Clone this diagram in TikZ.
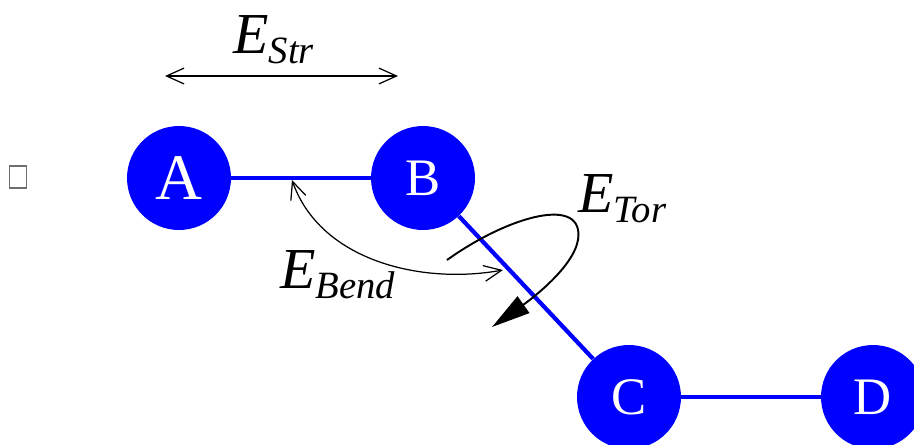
\documentclass[tikz,border=0pt]{standalone}
\usepackage{fontspec}
\setmainfont{Liberation Serif}
\usetikzlibrary{arrows.meta}
\definecolor{atomblue}{RGB}{0,0,255}
\definecolor{boxgray}{RGB}{110,110,110}
\newcommand\energy[1]{\textit{E}\raisebox{-0.18em}{\fontsize{22}{22}\selectfont\textit{#1}}}
\tikzset{
    atom/.style={
        circle,fill=atomblue,minimum size=2.08cm,inner sep=0pt,
        text=white,font=\fontsize{30}{30}\selectfont
    },
    bond/.style={
        draw=atomblue,line width=2.4pt
    },
    term/.style={
        anchor=base west,inner sep=0pt,font=\fontsize{33}{33}\selectfont
    },
    motion/.style={
        {Straight Barb[length=10pt,width=9pt]}-{Straight Barb[length=10pt,width=9pt]},
        line width=0.7pt
    },
    twist/.style={
        -{Triangle[length=22pt,width=11.5pt]},line width=1.1pt
    }
}

\begin{document}
\begin{tikzpicture}[x=0.02cm,y=-0.02cm]

\useasboundingbox (0,0) rectangle (914,444);
\clip (0,0) rectangle (914,444);

\node[draw=boxgray,line width=0.6pt,minimum width=0.34cm,minimum height=0.44cm,inner sep=0pt]
(glyph) at (18,177){};

\node[atom,font=\fontsize{37}{37}\selectfont](A) at (179,178){A};
\node[atom](B) at (423,178){B};
\node[atom](C) at (629,397){C};
\node[atom](D) at (873,397){D};

\draw[bond](A)--(B);
\draw[bond](B)--(C);
\draw[bond](C)--(D);

\coordinate (strl) at (165,76);
\coordinate (strr) at (398,76);
\draw[motion](strl)--(strr);
\node[term](str) at (233,53){\energy{Str}};

\coordinate (bendtop) at (292,180);
\coordinate (bendend) at (503,270);
\draw[motion](bendtop) .. controls (320,260) and (420,285) .. (bendend);
\node[term](bend) at (280,288){\energy{Bend}};

\coordinate (torstart) at (447,260);
\coordinate (torend) at (492,327);
\draw[twist](torstart) .. controls (510,215) and (585,195) .. (578,240)
    .. controls (573,268) and (530,300) .. (torend);
\node[term](tor) at (578,212){\energy{Tor}};

\end{tikzpicture}
\end{document}
